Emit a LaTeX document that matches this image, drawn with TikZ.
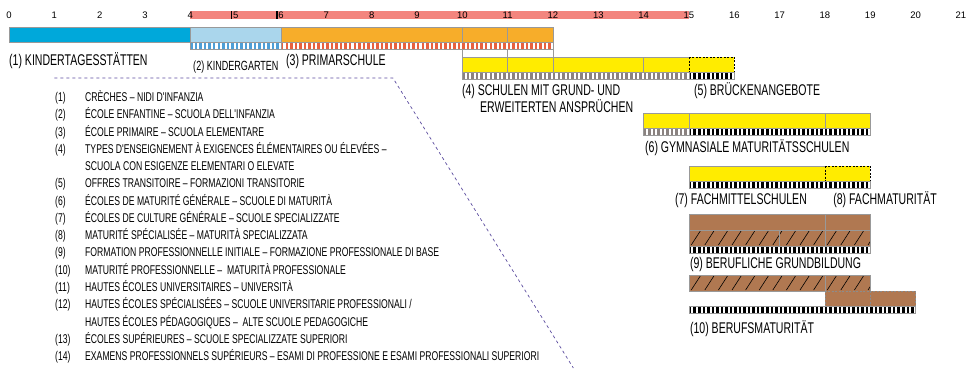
\documentclass[tikz,border=0pt]{standalone}
\usepackage{fontspec}
\setmainfont{Liberation Sans}
\newfontfamily\condfont{Liberation Sans}[FakeStretch=0.68]
\usetikzlibrary{positioning}

\definecolor{kitablue}{HTML}{00A8DA}
\definecolor{kgblue}{HTML}{AAD6EC}
\definecolor{kgstripe}{HTML}{4F9FD6}
\definecolor{primorange}{HTML}{F7AD2A}
\definecolor{primred}{HTML}{E8613F}
\definecolor{secyellow}{HTML}{FFEC00}
\definecolor{voc}{HTML}{B07851}
\definecolor{agepink}{HTML}{F3857E}
\definecolor{stripegray}{HTML}{8A8280}
\definecolor{legendpurple}{HTML}{5A4B9E}

% bar: start, end, top, height, colour
\newcommand\agebar[5]{\filldraw[barline, fill=#5] (#1,#3) rectangle (#2,#3+#4);}
% stripe row: start, number of stripes, top, colour
\newcommand\stripebar[4]{%
  \fill[white] (#1,#3) rectangle ++(#2/10,7);
  \foreach \k in {1,...,#2}{\fill[#4] ({#1+(\k-1)/10},#3) rectangle ++(0.055,7);}
  \draw[barline] (#1,#3) rectangle ++(#2/10,7);}
% hatched row: start, end, top
\newcommand\hatchbar[3]{%
  \fill[voc] (#1,#3) rectangle (#2,#3+16);
  \begin{scope}
    \clip (#1,#3) rectangle (#2,#3+16);
    \foreach \k in {0,...,16}{\draw[hatchline] ({#1+\k*0.3+0.05},#3+15) -- ++(0.2,-14);}
  \end{scope}
  \draw[barline] (#1,#3) rectangle (#2,#3+16);}

\begin{document}
\begin{tikzpicture}[x=45.33pt, y=-1pt,
  barline/.style={draw=black!40, line width=0.5pt},
  hatchline/.style={draw=black, line width=0.6pt},
  dashbox/.style={draw=black, line width=0.7pt, dash pattern=on 2pt off 1.5pt},
  vocdash/.style={draw=black!45, line width=0.6pt, dash pattern=on 2pt off 1.5pt},
  legline/.style={draw=legendpurple, line width=0.7pt, dash pattern=on 3pt off 3pt},
  lab/.style={anchor=base west, yshift=-5.5pt, inner sep=0pt, font=\condfont\fontsize{15.5}{17}\selectfont},
  smalllab/.style={lab, yshift=-4.8pt, font=\condfont\fontsize{13.3}{15}\selectfont},
  legtext/.style={anchor=base west, yshift=-4.5pt, inner sep=0pt, font=\condfont\fontsize{12.7}{14}\selectfont},
  yrlab/.style={inner sep=0pt, font=\fontsize{9.5}{11}\selectfont}]
\useasboundingbox (-0.19855,0) rectangle (21.178,372);

% Altersachse
\fill[agepink] (4,11) rectangle (15,19);
\foreach \k in {4.91,5.91} \fill[black] (\k-0.015,11) rectangle (\k+0.015,19);
\foreach \k in {0,...,21} \node[yrlab] (yr\k) at (\k,15) {\k};

% (1)-(3)
\agebar{0}{4}{27}{15}{kitablue}
\agebar{4}{6}{27}{15}{kgblue}
\agebar{6}{10}{27}{15}{primorange}
\agebar{10}{11}{27}{15}{primorange}
\agebar{11}{12}{27}{15}{primorange}
\stripebar{4}{20}{42}{kgstripe}
\stripebar{6}{60}{42}{primred}
\foreach \k in {10,11,12} \draw[barline] (\k,49) -- (\k,57);
\node[lab] (lab1) at (0,60) {(1) KINDERTAGESSTÄTTEN};
\node[smalllab] (lab2) at (4.06,60) {(2) KINDERGARTEN};
\node[lab] (lab3) at (6.11,60) {(3) PRIMARSCHULE};

% (4) und (5)
\agebar{10}{11}{57}{15}{secyellow}
\agebar{11}{12}{57}{15}{secyellow}
\agebar{12}{14}{57}{15}{secyellow}
\agebar{14}{15}{57}{15}{secyellow}
\fill[secyellow] (15,57) rectangle (16,72);
\draw[dashbox] (15,57) rectangle (16,72);
\stripebar{10}{50}{72}{stripegray}
\stripebar{15}{10}{72}{black}
\node[lab] (lab4) at (9.99,90) {(4) SCHULEN MIT GRUND- UND};
\node[lab] (lab4b) at (10.39,107) {ERWEITERTEN ANSPRÜCHEN};
\node[lab] (lab5) at (15.11,90) {(5) BRÜCKENANGEBOTE};

% (6)
\agebar{14}{15}{113}{15}{secyellow}
\agebar{15}{18}{113}{15}{secyellow}
\agebar{18}{19}{113}{15}{secyellow}
\stripebar{14}{10}{128}{stripegray}
\stripebar{15}{40}{128}{black}
\node[lab] (lab6) at (14.03,147) {(6) GYMNASIALE MATURITÄTSSCHULEN};

% (7) und (8)
\agebar{15}{18}{166}{15}{secyellow}
\fill[secyellow] (18,166) rectangle (19,181);
\draw[dashbox] (18,166) rectangle (19,181);
\stripebar{15}{40}{181}{black}
\node[lab] (lab7) at (14.69,199) {(7) FACHMITTELSCHULEN};
\node[lab] (lab8) at (18.18,199) {(8) FACHMATURITÄT};

% (9)
\agebar{15}{18}{214}{16}{voc}
\agebar{18}{19}{214}{16}{voc}
\hatchbar{15}{19}{230}
\foreach \k in {17,18} \draw[barline] (\k,230) -- (\k,246);
\stripebar{15}{40}{246}{black}
\node[lab] (lab9) at (15.02,263) {(9) BERUFLICHE GRUNDBILDUNG};

% (10)
\hatchbar{15}{19}{275}
\draw[barline] (18,275) -- (18,291);
\foreach \k in {18,19}{
  \fill[voc] (\k,291) rectangle (\k+1,306);
  \draw[vocdash] (\k,291) rectangle (\k+1,306);}
\stripebar{15}{50}{306}{black}
\node[lab] (lab10) at (15.02,328) {(10) BERUFSMATURITÄT};

% Legende
\coordinate (legstart) at (1.0,78);
\coordinate (legcorner) at (8.47,78);
\coordinate (legend) at (12.45,368);
\draw[legline] (legstart) -- (legcorner) -- (legend);
\foreach \i/\n/\t in {0/{(1)}/{CRÈCHES – NIDI D'INFANZIA},
    1/{(2)}/{ÉCOLE ENFANTINE – SCUOLA DELL'INFANZIA},
    2/{(3)}/{ÉCOLE PRIMAIRE – SCUOLA ELEMENTARE},
    3/{(4)}/{TYPES D'ENSEIGNEMENT À EXIGENCES ÉLÉMENTAIRES OU ÉLEVÉES –},
    4/{}/{SCUOLA CON ESIGENZE ELEMENTARI O ELEVATE},
    5/{(5)}/{OFFRES TRANSITOIRE – FORMAZIONI TRANSITORIE},
    6/{(6)}/{ÉCOLES DE MATURITÉ GÉNÉRALE – SCUOLE DI MATURITÀ},
    7/{(7)}/{ÉCOLES DE CULTURE GÉNÉRALE – SCUOLE SPECIALIZZATE},
    8/{(8)}/{MATURITÉ SPÉCIALISÉE – MATURITÀ SPECIALIZZATA},
    9/{(9)}/{FORMATION PROFESSIONNELLE INITIALE – FORMAZIONE PROFESSIONALE DI BASE},
    10/{(10)}/{MATURITÉ PROFESSIONNELLE – \ MATURITÀ PROFESSIONALE},
    11/{(11)}/{HAUTES ÉCOLES UNIVERSITAIRES – UNIVERSITÀ},
    12/{(12)}/{HAUTES ÉCOLES SPÉCIALISÉES – SCUOLE UNIVERSITARIE PROFESSIONALI /},
    13/{}/{HAUTES ÉCOLES PÉDAGOGIQUES – \ ALTE SCUOLE PEDAGOGICHE},
    14/{(13)}/{ÉCOLES SUPÉRIEURES – SCUOLE SPECIALIZZATE SUPERIORI},
    15/{(14)}/{EXAMENS PROFESSIONNELS SUPÉRIEURS – ESAMI DI PROFESSIONE E ESAMI PROFESSIONALI SUPERIORI}}{
  \node[legtext] (num\i) at (1.015,97+17.27*\i) {\n};
  \node[legtext] (txt\i) at (1.677,97+17.27*\i) {\t};
}
\end{tikzpicture}
\end{document}
